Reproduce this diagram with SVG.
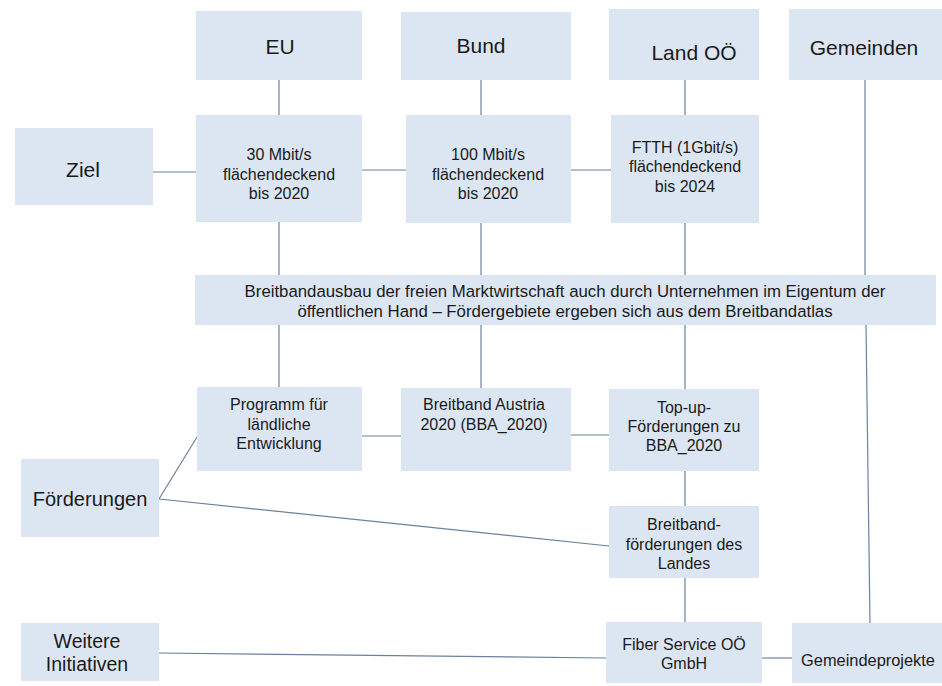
<svg xmlns="http://www.w3.org/2000/svg" width="942" height="686" viewBox="0 0 942 686">
<style>
.box{fill:#dce6f2;stroke:none}
.c{stroke:#6b819d;stroke-width:1.2;fill:none}
text{font-family:"Liberation Sans",Arial,sans-serif;fill:#1a1a1a;text-anchor:middle}
.big{font-size:21px}
.mid{font-size:20px}
.n{font-size:16px}
.w{font-size:16.8px}
</style>
<rect width="942" height="686" fill="#ffffff"/>
<g id="connectors">
<line class="c" x1="279" y1="80" x2="279" y2="115"/>
<line class="c" x1="481" y1="80" x2="481" y2="115"/>
<line class="c" x1="685" y1="80" x2="685" y2="115"/>
<line class="c" x1="865" y1="80" x2="865" y2="275"/>
<line class="c" x1="153" y1="172" x2="196" y2="172"/>
<line class="c" x1="362" y1="170" x2="406" y2="170"/>
<line class="c" x1="571" y1="170" x2="611" y2="170"/>
<line class="c" x1="279" y1="222" x2="279" y2="275"/>
<line class="c" x1="481" y1="223" x2="481" y2="275"/>
<line class="c" x1="685" y1="223" x2="685" y2="275"/>
<line class="c" x1="279" y1="325" x2="279" y2="387"/>
<line class="c" x1="481" y1="325" x2="481" y2="388"/>
<line class="c" x1="685" y1="325" x2="685" y2="389"/>
<line class="c" x1="866" y1="325" x2="870" y2="623"/>
<line class="c" x1="362" y1="436" x2="401" y2="436"/>
<line class="c" x1="571" y1="435" x2="609" y2="435"/>
<line class="c" x1="159" y1="499" x2="197" y2="437"/>
<line class="c" x1="159" y1="499" x2="609" y2="546"/>
<line class="c" x1="685" y1="471" x2="685" y2="506"/>
<line class="c" x1="685" y1="578" x2="685" y2="622"/>
<line class="c" x1="159" y1="653" x2="606" y2="658"/>
<line class="c" x1="762" y1="658" x2="792" y2="658"/>
</g>
<g id="eu"><rect class="box" x="196" y="11" width="166" height="69"/><text class="big" x="280" y="54">EU</text></g>
<g id="bund"><rect class="box" x="401" y="12" width="170" height="68"/><text class="big" x="481" y="53">Bund</text></g>
<g id="land"><rect class="box" x="609" y="9" width="150" height="71"/><text class="big" x="694" y="60">Land OÖ</text></g>
<g id="gemeinden"><rect class="box" x="789" y="9" width="153" height="71"/><text class="big" x="864" y="55">Gemeinden</text></g>
<g id="ziel"><rect class="box" x="15" y="128" width="138" height="77"/><text class="big" x="83" y="177">Ziel</text></g>
<g id="ziel-eu"><rect class="box" x="196" y="115" width="166" height="107"/><text class="n" x="279"><tspan x="279" y="160">30 Mbit/s</tspan><tspan x="279" y="179.5">flächendeckend</tspan><tspan x="279" y="199">bis 2020</tspan></text></g>
<g id="ziel-bund"><rect class="box" x="406" y="115" width="165" height="108"/><text class="n"><tspan x="488" y="160">100 Mbit/s</tspan><tspan x="488" y="179.5">flächendeckend</tspan><tspan x="488" y="199">bis 2020</tspan></text></g>
<g id="ziel-land"><rect class="box" x="611" y="115" width="148" height="108"/><text class="n"><tspan x="685" y="152.5">FTTH (1Gbit/s)</tspan><tspan x="685" y="172">flächendeckend</tspan><tspan x="685" y="191.5">bis 2024</tspan></text></g>
<g id="markt"><rect class="box" x="195" y="275" width="741" height="50"/><text class="w"><tspan x="565" y="297">Breitbandausbau der freien Marktwirtschaft auch durch Unternehmen im Eigentum der</tspan><tspan x="565" y="316.5">öffentlichen Hand – Fördergebiete ergeben sich aus dem Breitbandatlas</tspan></text></g>
<g id="programm"><rect class="box" x="197" y="387" width="165" height="84"/><text class="n"><tspan x="279" y="410">Programm für</tspan><tspan x="279" y="429.5">ländliche</tspan><tspan x="279" y="449">Entwicklung</tspan></text></g>
<g id="bba"><rect class="box" x="401" y="388" width="170" height="83"/><text class="n"><tspan x="484" y="410">Breitband Austria</tspan><tspan x="484" y="429.5">2020 (BBA_2020)</tspan></text></g>
<g id="topup"><rect class="box" x="609" y="389" width="150" height="82"/><text class="n"><tspan x="684" y="413">Top-up-</tspan><tspan x="684" y="432">Förderungen zu</tspan><tspan x="684" y="451">BBA_2020</tspan></text></g>
<g id="foerderungen"><rect class="box" x="21" y="459" width="138" height="78"/><text class="mid" x="90" y="506">Förderungen</text></g>
<g id="landesfoerderung"><rect class="box" x="609" y="506" width="150" height="72"/><text class="n"><tspan x="684" y="530">Breitband-</tspan><tspan x="684" y="549.5">förderungen des</tspan><tspan x="684" y="569">Landes</tspan></text></g>
<g id="weitere"><rect class="box" x="21" y="623" width="138" height="58"/><text style="font-size:19.5px"><tspan x="87" y="648">Weitere</tspan><tspan x="87" y="671">Initiativen</tspan></text></g>
<g id="fiber"><rect class="box" x="606" y="622" width="156" height="61"/><text class="n"><tspan x="684" y="650">Fiber Service OÖ</tspan><tspan x="684" y="669">GmbH</tspan></text></g>
<g id="gemeindeprojekte"><rect class="box" x="792" y="623" width="150" height="60"/><text style="font-size:16.4px" x="868" y="666">Gemeindeprojekte</text></g>
</svg>
